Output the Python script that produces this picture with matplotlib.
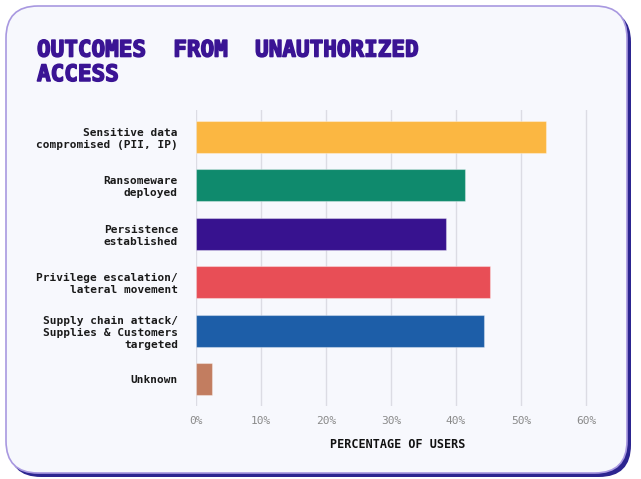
import matplotlib
matplotlib.use("Agg")
import matplotlib.pyplot as plt
from matplotlib.patches import FancyBboxPatch
import matplotlib.patheffects as pe

categories = [
    "Sensitive data\ncompromised (PII, IP)",
    "Ransomeware\ndeployed",
    "Persistence\nestablished",
    "Privilege escalation/\nlateral movement",
    "Supply chain attack/\nSupplies & Customers\ntargeted",
    "Unknown",
]
values = [53.8, 41.4, 38.5, 45.2, 44.3, 2.5]
colors = ["#FBB742", "#0F8A6D", "#37128F", "#E84E56", "#1D5EA8", "#C27D60"]
xticks = [0, 10, 20, 30, 40, 50, 60]
xticklabels = ["0%", "10%", "20%", "30%", "40%", "50%", "60%"]

W, H = 641, 479
fig = plt.figure(figsize=(W / 100, H / 100), dpi=100)
fig.patch.set_facecolor("white")

# card with offset dark border
shadow = FancyBboxPatch((9 / W, 1 - 477 / H), 622 / W, 467 / H,
                        boxstyle="round,pad=0,rounding_size=0.05",
                        transform=fig.transFigure, facecolor="#2C2590",
                        edgecolor="none", mutation_aspect=W / H, zorder=0)
fig.patches.append(shadow)
card = FancyBboxPatch((6 / W, 1 - 473 / H), 621 / W, 467 / H,
                      boxstyle="round,pad=0,rounding_size=0.05",
                      transform=fig.transFigure, facecolor="#F7F8FD",
                      edgecolor="#A898E0", linewidth=1.2,
                      mutation_aspect=W / H, zorder=1)
fig.patches.append(card)

left, right, top, bottom = 196, 599, 110, 406
ax = fig.add_axes([left / W, 1 - bottom / H, (right - left) / W, (bottom - top) / H])
ax.set_facecolor("none")
ax.set_zorder(2)

y = list(range(len(categories)))
ax.barh(y, values, height=0.66, color=colors, edgecolor=(1, 1, 1, 0.35),
        linewidth=0.8, zorder=3)
ax.set_xlim(0, 62)
ax.set_ylim(5.55, -0.55)
ax.set_xticks(xticks)
ax.set_xticklabels(xticklabels, family="DejaVu Sans Mono", fontsize=8, color="#8A8A8A")
ax.set_yticks(y)
ax.set_yticklabels(categories, family="DejaVu Sans Mono", fontsize=8,
                   fontweight="bold", color="#1A1A1A", linespacing=1.25)
ax.tick_params(axis="both", length=0)
ax.tick_params(axis="x", pad=7)
ax.tick_params(axis="y", pad=13)
ax.grid(axis="x", color="#DCDCE4", linewidth=1, zorder=0)
for s in ax.spines.values():
    s.set_visible(False)
ax.set_xlabel("PERCENTAGE OF USERS", family="DejaVu Sans Mono", fontsize=8.5,
              fontweight="bold", color="#111111", labelpad=9)

fig.text(37 / W, 1 - 81 / H, "OUTCOMES  FROM  UNAUTHORIZED\nACCESS",
         family="DejaVu Sans Mono", fontsize=16.3, fontweight="bold",
         color="#3A1494", ha="left", va="baseline", linespacing=1.08, zorder=3,
         path_effects=[pe.withStroke(linewidth=1.1, foreground="#3A1494")])

fig.savefig("out.png", dpi=100, facecolor="white")
